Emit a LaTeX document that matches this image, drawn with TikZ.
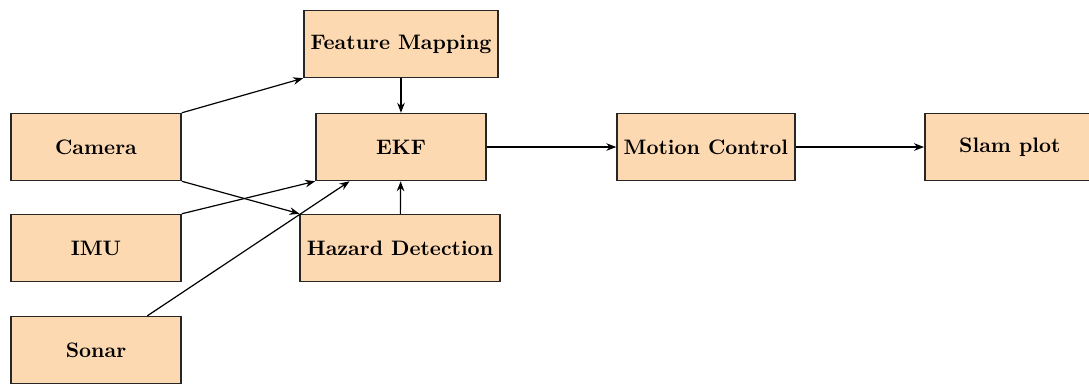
\documentclass[tikz,border=0pt]{standalone}
\usetikzlibrary{arrows.meta}
\definecolor{boxfill}{RGB}{253,217,178}
\begin{document}
\begin{tikzpicture}[
  blk/.style={draw=black!85, thick, fill=boxfill, minimum width=3cm, minimum height=1.18cm, font=\fontsize{10.5}{12.6}\selectfont\bfseries, inner sep=0.333em},
  arr/.style={semithick, -{Stealth[length=5pt,width=3.8pt]}}
]
\useasboundingbox (0,0) rectangle (19.206,-6.790);
\node[blk] (cam) at (1.693,-2.593) {Camera};
\node[blk] (imu) at (1.693,-4.374) {IMU};
\node[blk] (sonar) at (1.693,-6.173) {Sonar};
\node[blk] (fm) at (7.072,-0.776) {Feature Mapping};
\node[blk] (ekf) at (7.072,-2.593) {EKF};
\node[blk] (haz) at (7.055,-4.374) {Hazard Detection};
\node[blk] (mc) at (12.45,-2.593) {Motion Control};
\node[blk] (slam) at (17.81,-2.593) {Slam plot};
\draw[arr] (cam.north east) -- (fm.south west);
\draw[arr] (cam.south east) -- (haz.north west);
\draw[arr] (imu.north east) -- (ekf.south west);
\draw[arr] (sonar) -- (ekf);
\draw[arr] (fm) -- (ekf);
\draw[arr] (haz) -- (ekf);
\draw[arr] (ekf) -- (mc);
\draw[arr] (mc) -- (slam);
\end{tikzpicture}
\end{document}
